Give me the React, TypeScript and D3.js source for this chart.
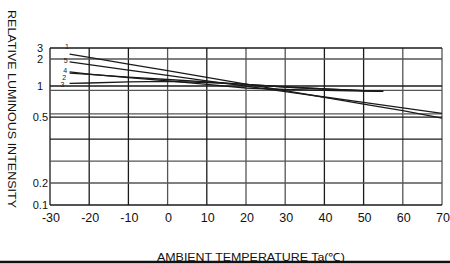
import React from "react";
import * as d3 from "d3";

// ---- data ----
const temps = [-25, -20, -10, 0, 10, 20, 30, 40, 50, 60, 70];
const curve1 = [2.45, 2.15, 1.81, 1.57, 1.32, 1.07, 0.926, 0.818, 0.71, 0.603, 0.495];
const curve5 = [1.89, 1.79, 1.59, 1.39, 1.19, 0.997, 0.91, 0.823, 0.735, 0.648, 0.561];
const tempsShort = [-25, -20, -10, 0, 10, 20, 30, 40, 50, 55];
const curve4 = [1.52, 1.44, 1.31, 1.19, 1.06, 0.968, 0.944, 0.931, 0.919, 0.915];
const curve2 = [1.48, 1.43, 1.33, 1.24, 1.15, 1.06, 0.984, 0.952, 0.927, 0.919];
const curve3 = [1.1, 1.11, 1.15, 1.17, 1.13, 1.06, 0.984, 0.952, 0.927, 0.919];
const curveNames = ["1", "5", "4", "2", "3"];
// where each curve's number is printed (temperature, relative intensity)
const labelTemps = [-25.7, -26.0, -26.1, -26.35, -26.8];
const labelValues = [3.12, 1.94, 1.57, 1.31, 1.04];

const xTicks = [-30, -20, -10, 0, 10, 20, 30, 40, 50, 60, 70];
const yTickValues = [0.1, 0.2, 0.5, 1, 2, 3];
const yTickLabels = ["0.1", "0.2", "0.5", "1", "2", "3"];
const yGridValues = [0.1, 0.2, 0.3, 0.4, 0.5, 0.55, 0.93, 1, 2, 3];
const yGridGrey = [false, true, true, false, false, true, true, false, true, false];
const xGridGrey = [false, false, false, true, false, true, true, false, false, true, true];

const yTitle = "RELATIVE LUMINOUS INTENSITY";
const xTitle = "AMBIENT TEMPERATURE Ta(\u2103)";

export default function App() {
  const W = 450, H = 264;
  const left = 50, right = 442, top = 48, bottom = 205;
  const ph = bottom - top;
  const x = d3.scaleLinear().domain([-30, 70]).range([left, right]);
  // piecewise (non-uniform) value axis, as printed on the datasheet
  const y = d3
    .scaleLinear()
    .domain(yTickValues)
    .range([bottom, bottom - ph * 0.14, bottom - ph * 0.56, bottom - ph * 0.758, bottom - ph * 0.93, top]);

  const line = d3
    .line<[number, number]>()
    .x((d) => x(d[0]))
    .y((d) => y(d[1]));

  const series: { name: string; t: number[]; v: number[] }[] = [
    { name: curveNames[0], t: temps, v: curve1 },
    { name: curveNames[1], t: temps, v: curve5 },
    { name: curveNames[2], t: tempsShort, v: curve4 },
    { name: curveNames[3], t: tempsShort, v: curve2 },
    { name: curveNames[4], t: tempsShort, v: curve3 },
  ];

  const font = "'Liberation Sans', Arial, sans-serif";

  return (
    <svg
      width={W}
      height={H}
      style={{ position: "absolute", left: 0, top: 0, background: "#fff" }}
      fontFamily={font}
    >
      <rect width={W} height={H} fill="#fff" />
      {/* grid */}
      {xTicks.map((t, i) => (
        <line
          key={"vx" + t}
          x1={x(t)}
          x2={x(t)}
          y1={top}
          y2={bottom}
          stroke={xGridGrey[i] ? "#555" : "#1a1a1a"}
          strokeWidth={1.3}
        />
      ))}
      {yGridValues.map((v, i) => (
        <line
          key={"hy" + i}
          x1={left}
          x2={right}
          y1={y(v)}
          y2={y(v)}
          stroke={yGridGrey[i] ? "#555" : "#1a1a1a"}
          strokeWidth={1.3}
        />
      ))}
      {/* curves */}
      {series.map((s) => (
        <path
          key={"c" + s.name}
          d={line(s.t.map((t, i) => [t, s.v[i]]) as [number, number][]) || ""}
          fill="none"
          stroke="#1a1a1a"
          strokeWidth={1.3}
        />
      ))}
      {series.map((s, i) => (
        <text
          key={"l" + s.name}
          x={x(labelTemps[i])}
          y={y(labelValues[i])}
          fontSize={7}
          textAnchor="middle"
          dy="0.35em"
          fill="#222"
        >
          {s.name}
        </text>
      ))}
      {/* y tick labels */}
      {yTickValues.map((v, i) => (
        <text
          key={"yl" + v}
          x={left - 2 - (yTickLabels[i].includes(".") ? 0 : 5)}
          y={y(v)}
          dy="0.35em"
          textAnchor="end"
          fontSize={11}
          fill="#111"
        >
          {yTickLabels[i]}
        </text>
      ))}
      {/* x tick labels */}
      {xTicks.map((t) => (
        <text
          key={"xl" + t}
          x={x(t) + 1}
          y={bottom + 17}
          textAnchor="middle"
          fontSize={12.5}
          fill="#111"
        >
          {t}
        </text>
      ))}
      {/* axis titles */}
      <text
        transform={`translate(8,${(10 + 208) / 2}) rotate(90)`}
        textAnchor="middle"
        fontSize={11}
        textLength={198}
        lengthAdjust="spacingAndGlyphs"
        fill="#111"
      >
        {yTitle}
      </text>
      <text
        x={251}
        y={261}
        textAnchor="middle"
        fontSize={11}
        textLength={188}
        lengthAdjust="spacingAndGlyphs"
        fill="#111"
      >
        {xTitle}
      </text>
      <line x1={0} x2={W} y1={262} y2={262} stroke="#111" strokeWidth={2.5} />
    </svg>
  );
}
